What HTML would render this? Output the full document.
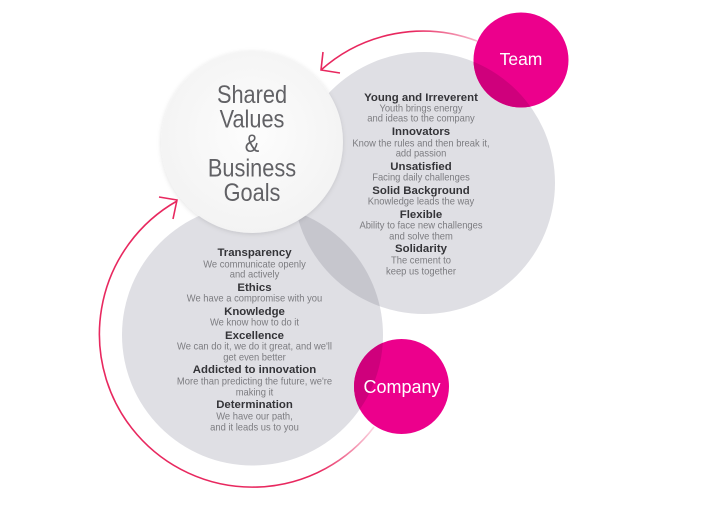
<!DOCTYPE html>
<html><head><meta charset="utf-8"><style>
html,body{margin:0;padding:0;background:#fff;width:711px;height:506px;overflow:hidden}
svg{display:block}
.h{font-family:"Liberation Sans",Arial,sans-serif;font-weight:bold;font-size:11.4px;fill:#343438;text-anchor:middle}
.s{font-family:"Liberation Sans",Arial,sans-serif;font-size:10px;fill:#7c7c80;text-anchor:middle}
.t{font-family:"Liberation Sans",Arial,sans-serif;font-size:25px;fill:#616165;text-anchor:middle}
.w{font-family:"Liberation Sans",Arial,sans-serif;fill:#fff;text-anchor:middle}
</style></head><body>
<svg width="711" height="506" viewBox="0 0 711 506" xmlns="http://www.w3.org/2000/svg">
<defs>
<clipPath id="cU"><circle cx="424" cy="183" r="131"/></clipPath>
<clipPath id="cL"><circle cx="252.5" cy="335" r="130.5"/></clipPath>
<filter id="sh" x="-20%" y="-20%" width="140%" height="140%"><feDropShadow dx="0" dy="1" stdDeviation="2.5" flood-color="#000" flood-opacity="0.12"/></filter>
<radialGradient id="wg" cx="50%" cy="45%" r="55%"><stop offset="0" stop-color="#fdfdfd"/><stop offset="1" stop-color="#f3f3f3"/></radialGradient>
<linearGradient id="ga" gradientUnits="userSpaceOnUse" x1="321" y1="60" x2="477" y2="40"><stop offset="0" stop-color="#e8285f"/><stop offset="0.6" stop-color="#e8285f"/><stop offset="1" stop-color="#f7b8cc"/></linearGradient>
<linearGradient id="gb" gradientUnits="userSpaceOnUse" x1="250" y1="488" x2="374" y2="428"><stop offset="0" stop-color="#e8285f"/><stop offset="0.5" stop-color="#e8285f"/><stop offset="1" stop-color="#fbd6e2"/></linearGradient>
</defs>

<circle cx="424" cy="183" r="131" fill="#dfdfe4"/>
<circle cx="252.5" cy="335" r="130.5" fill="#dfdfe4"/>
<circle cx="252.5" cy="335" r="130.5" fill="#c6c6cd" clip-path="url(#cU)"/>

<path d="M321,70 A153,153 0 0 1 477,41" fill="none" stroke="url(#ga)" stroke-width="1.6"/>
<path d="M323,52 L321,70 L340,73" fill="none" stroke="#e8285f" stroke-width="1.6"/>
<path d="M177,201 A153,153 0 1 0 374,427" fill="none" stroke="url(#gb)" stroke-width="1.6"/>
<path d="M159,197 L177,200 L173,219" fill="none" stroke="#e8285f" stroke-width="1.6"/>

<circle cx="521" cy="60" r="47.5" fill="#ec008c"/>
<circle cx="521" cy="60" r="47.5" fill="#cf007c" clip-path="url(#cU)"/>
<circle cx="401.5" cy="386.5" r="47.5" fill="#ec008c"/>
<circle cx="401.5" cy="386.5" r="47.5" fill="#cf007c" clip-path="url(#cL)"/>

<circle cx="252" cy="142" r="91" fill="url(#wg)" filter="url(#sh)"/>

<g transform="translate(252,0) scale(0.87,1)">
<text class="t" x="0" y="103">Shared</text>
<text class="t" x="0" y="127.5">Values</text>
<text class="t" x="0" y="152">&amp;</text>
<text class="t" x="0" y="176.5">Business</text>
<text class="t" x="0" y="201">Goals</text>
</g>

<text class="w" x="521" y="65" font-size="17.5">Team</text>
<text class="w" x="402" y="393" font-size="18">Company</text>

<g>
<text class="h" x="421" y="101">Young and Irreverent</text>
<text class="h" x="421" y="135">Innovators</text>
<text class="h" x="421" y="170">Unsatisfied</text>
<text class="h" x="421" y="194">Solid Background</text>
<text class="h" x="421" y="218">Flexible</text>
<text class="h" x="421" y="252">Solidarity</text>
</g>
<g transform="translate(421,0) scale(0.94,1)">
<text class="s" x="0" y="111.5">Youth brings energy</text>
<text class="s" x="0" y="121.5">and ideas to the company</text>
<text class="s" x="0" y="146.5">Know the rules and then break it,</text>
<text class="s" x="0" y="156.5">add passion</text>
<text class="s" x="0" y="180.5">Facing daily challenges</text>
<text class="s" x="0" y="204.5">Knowledge leads the way</text>
<text class="s" x="0" y="228.5">Ability to face new challenges</text>
<text class="s" x="0" y="239.5">and solve them</text>
<text class="s" x="0" y="263.5">The cement to</text>
<text class="s" x="0" y="274.5">keep us together</text>
</g>

<g>
<text class="h" x="254.5" y="256">Transparency</text>
<text class="h" x="254.5" y="291">Ethics</text>
<text class="h" x="254.5" y="315">Knowledge</text>
<text class="h" x="254.5" y="339">Excellence</text>
<text class="h" x="254.5" y="373">Addicted to innovation</text>
<text class="h" x="254.5" y="408">Determination</text>
</g>
<g transform="translate(254.5,0) scale(0.94,1)">
<text class="s" x="0" y="267.5">We communicate openly</text>
<text class="s" x="0" y="277.5">and actively</text>
<text class="s" x="0" y="301.5">We have a compromise with you</text>
<text class="s" x="0" y="325.5">We know how to do it</text>
<text class="s" x="0" y="349.5">We can do it, we do it great, and we'll</text>
<text class="s" x="0" y="360.5">get even better</text>
<text class="s" x="0" y="384.5">More than predicting the future, we're</text>
<text class="s" x="0" y="395.5">making it</text>
<text class="s" x="0" y="419.5">We have our path,</text>
<text class="s" x="0" y="430.5">and it leads us to you</text>
</g>
</svg>
</body></html>
